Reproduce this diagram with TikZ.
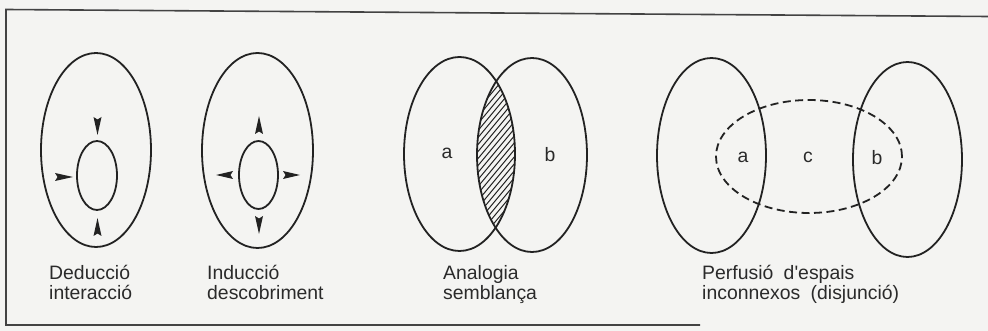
\documentclass[tikz,border=0pt]{standalone}
\usepackage{fontspec}
\setmainfont{Liberation Sans}
\definecolor{paper}{HTML}{F4F4F2}
\definecolor{ink}{HTML}{222222}
\definecolor{txt}{HTML}{2A2A2A}
\tikzset{
  outline/.style={draw=ink, line width=1.8pt},
  dashline/.style={draw=ink, line width=1.8pt, dash pattern=on 8pt off 4.5pt},
  wedge/.style={fill=ink, draw=none},
  hatch/.style={draw=ink, line width=1pt},
  lbl/.style={anchor=base west, inner sep=0pt, text=txt, font=\fontsize{19.4}{20}\selectfont},
  letter/.style={anchor=center, inner sep=0pt, text=txt, font=\fontsize{19.4}{20}\selectfont},
  frameline/.style={draw=ink!85, line width=1.6pt}
}
\begin{document}
\begin{tikzpicture}[x=1pt, y=-1pt]
\useasboundingbox (0,0) rectangle (988,331);
\fill[paper] (0,0) rectangle (988,331);
% frame
\coordinate (ftl) at (6,9.5);
\coordinate (ftr) at (988,16.5);
\coordinate (fbl) at (6,325);
\coordinate (fbr) at (700,325);
\draw[frameline] (ftr) -- (ftl) -- (fbl) -- (fbr);

% ---- panel 1: Deduccio
\draw[outline] (96,150) ellipse [x radius=55pt, y radius=97pt];
\draw[outline] (97,175.5) ellipse [x radius=20pt, y radius=34.5pt];
\fill[wedge] (93.5,117) -- (97.5,135) -- (101.5,117) -- (97.5,119.5) -- cycle;
\fill[wedge] (93.5,236) -- (97.5,218) -- (101.5,236) -- (97.5,233.5) -- cycle;
\fill[wedge] (55,173) -- (73,177) -- (55,181) -- (57.5,177) -- cycle;
\node[lbl] (t1a) at (49,279) {Deducció};
\node[lbl] (t1b) at (49,299) {interacció};

% ---- panel 2: Induccio
\draw[outline] (257.5,150.5) ellipse [x radius=55.5pt, y radius=97.5pt];
\draw[outline] (258.5,175) ellipse [x radius=19.5pt, y radius=34pt];
\fill[wedge] (255,134) -- (259,116) -- (263,134) -- (259,131.5) -- cycle;
\fill[wedge] (255,216) -- (259,234) -- (263,216) -- (259,218.5) -- cycle;
\fill[wedge] (233,171) -- (216,175) -- (233,179) -- (230.5,175) -- cycle;
\fill[wedge] (283,171) -- (300,175) -- (283,179) -- (285.5,175) -- cycle;
\node[lbl] (t2a) at (207,279) {Inducció};
\node[lbl] (t2b) at (207,299) {descobriment};

% ---- panel 3: Analogia
\begin{scope}
  \clip (459.5,154) ellipse [x radius=55.5pt, y radius=97pt];
  \clip (532,155) ellipse [x radius=55pt, y radius=97pt];
  \foreach \yy in {40,47,...,330} {
    \draw[hatch] (466,\yy) -- (530,\yy-77);
  }
\end{scope}
\draw[outline] (459.5,154) ellipse [x radius=55.5pt, y radius=97pt];
\draw[outline] (532,155) ellipse [x radius=55pt, y radius=97pt];
\node[letter] (la3) at (447,153) {a};
\node[letter] (lb3) at (550,155) {b};
\node[lbl] (t3a) at (443,279) {Analogia};
\node[lbl] (t3b) at (443,299) {semblança};

% ---- panel 4: Perfusio
\draw[outline] (711.5,155.5) ellipse [x radius=54.5pt, y radius=97.5pt];
\draw[outline] (907.5,159.5) ellipse [x radius=54.5pt, y radius=97.5pt];
\draw[dashline] (809,156.5) ellipse [x radius=93pt, y radius=56.5pt];
\node[letter] (la4) at (743,157) {a};
\node[letter] (lc4) at (808,157) {c};
\node[letter] (lb4) at (877,158) {b};
\node[lbl] (t4a) at (702,279) {Perfusió\hspace{5pt} d\textquotesingle espais};
\node[lbl] (t4b) at (702,299) {inconnexos\hspace{5pt} (disjunció)};
\end{tikzpicture}
\end{document}
